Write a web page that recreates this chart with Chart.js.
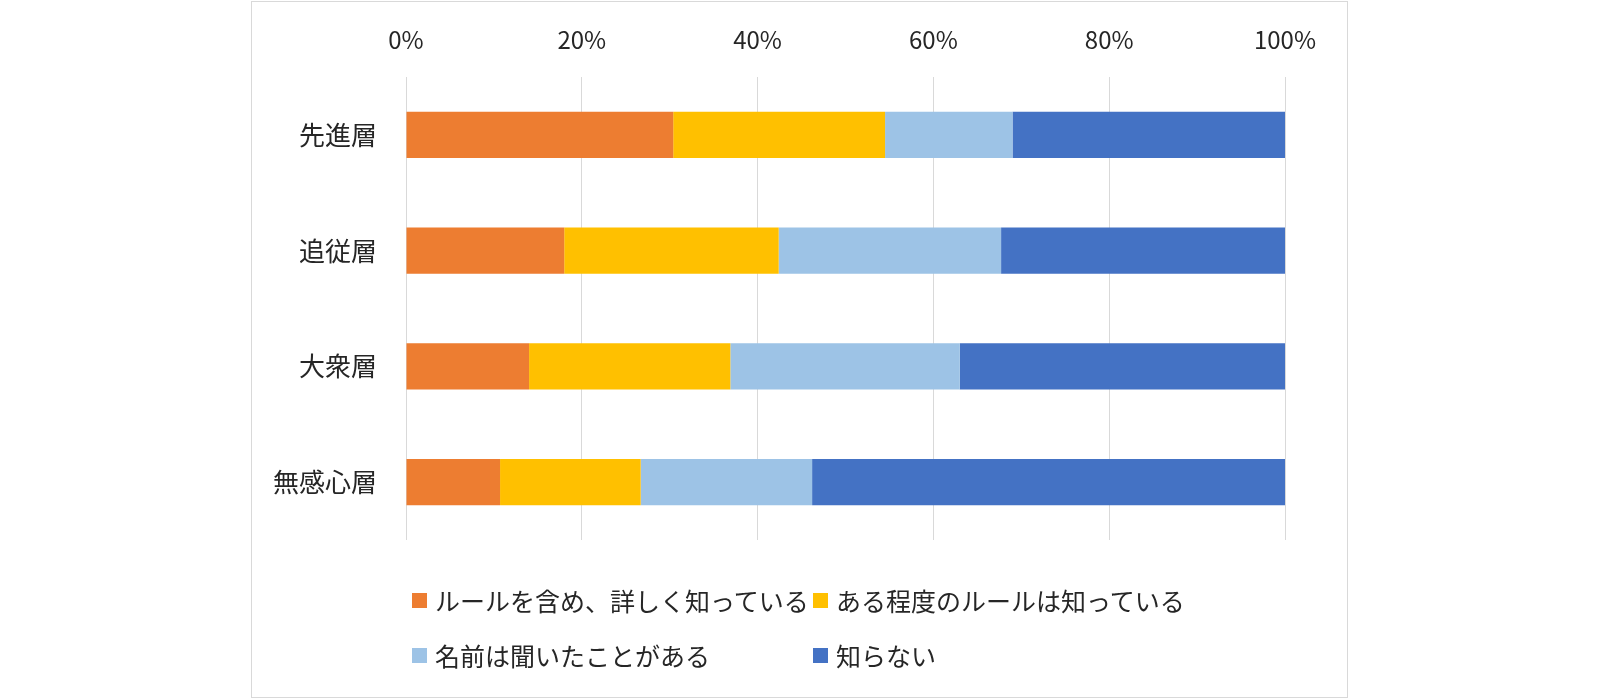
<!DOCTYPE html>
<html lang="ja">
<head>
<meta charset="utf-8">
<title>認知度</title>
<script src="https://cdn.jsdelivr.net/npm/chart.js@4"></script>
<style>
  html, body { margin: 0; padding: 0; background: #fff; }
  body { width: 1600px; height: 700px; position: relative; overflow: hidden;
         font-family: "Noto Sans CJK JP", "Noto Sans", sans-serif; color: #262626; }
  #frame { position: absolute; left: 251px; top: 1px; width: 1095px; height: 695px;
           border: 1px solid #d9d9d9; }
  #wrap { position: absolute; left: 0; top: 0; width: 1600px; height: 700px; }
  #legend { position: absolute; left: 412px; top: 586px; width: 802px;
            display: grid; grid-template-columns: 401px 401px; row-gap: 27px; }
  .item { display: flex; align-items: center; height: 28px; font-size: 25px; white-space: nowrap; }
  .box { width: 15px; height: 15px; margin-right: 8px; flex: none; }
</style>
</head>
<body>
<div id="frame"></div>
<div id="wrap"><canvas id="chart" width="1600" height="700"></canvas></div>
<div id="legend"></div>
<script>
// categories and series (percent of each group)
const groups = ['先進層', '追従層', '大衆層', '無感心層'];
const seriesNames = ['ルールを含め、詳しく知っている', 'ある程度のルールは知っている', '名前は聞いたことがある', '知らない'];
const detailed = [30.4, 18.0, 14.0, 10.7];
const someRules = [24.1, 24.4, 22.9, 16.0];
const nameOnly = [14.5, 25.3, 26.1, 19.5];
const unknown = [31.0, 32.3, 37.0, 53.8];
const tickValues = [0, 20, 40, 60, 80, 100];

const colors = ['#ED7D31', '#FFC000', '#9DC3E6', '#4472C4'];
const values = [detailed, someRules, nameOnly, unknown];

const textColor = '#262626';
const fontFamily = '"Noto Sans CJK JP", "Noto Sans", sans-serif';

const ctx = document.getElementById('chart').getContext('2d');

new Chart(ctx, {
    type: 'bar',
    data: {
        labels: groups,
        datasets: seriesNames.map((name, i) => ({
            label: name,
            data: values[i],
            backgroundColor: colors[i],
            borderWidth: 0,
            barPercentage: 0.4,
            categoryPercentage: 1.0
        }))
    },
    options: {
        indexAxis: 'y',
        responsive: false,
        animation: false,
        layout: { padding: { left: 0, right: 315, top: 0, bottom: 160 } },
        plugins: {
            legend: { display: false },
            tooltip: { enabled: true }
        },
        scales: {
            x: {
                position: 'top',
                stacked: true,
                min: 0,
                max: 100,
                afterBuildTicks: axis => {
                    axis.ticks = tickValues.map(v => ({ value: v }));
                },
                afterFit: axis => { axis.height = 77; },
                grid: { color: '#d9d9d9', lineWidth: 1, drawTicks: false },
                border: { display: false },
                ticks: {
                    padding: 23,
                    color: textColor,
                    font: { family: fontFamily, size: 24 },
                    callback: v => v + '%'
                }
            },
            y: {
                stacked: true,
                afterFit: axis => { axis.width = 406; },
                grid: { display: false, drawTicks: false },
                border: { display: false },
                ticks: {
                    padding: 29,
                    color: textColor,
                    font: { family: fontFamily, size: 26 }
                }
            }
        }
    }
});

// legend laid out like the spreadsheet: two fixed columns
const legend = document.getElementById('legend');
seriesNames.forEach((name, i) => {
    const item = document.createElement('div');
    item.className = 'item';
    const box = document.createElement('span');
    box.className = 'box';
    box.style.background = colors[i];
    const label = document.createElement('span');
    label.textContent = name;
    item.appendChild(box);
    item.appendChild(label);
    legend.appendChild(item);
});
</script>
</body>
</html>
